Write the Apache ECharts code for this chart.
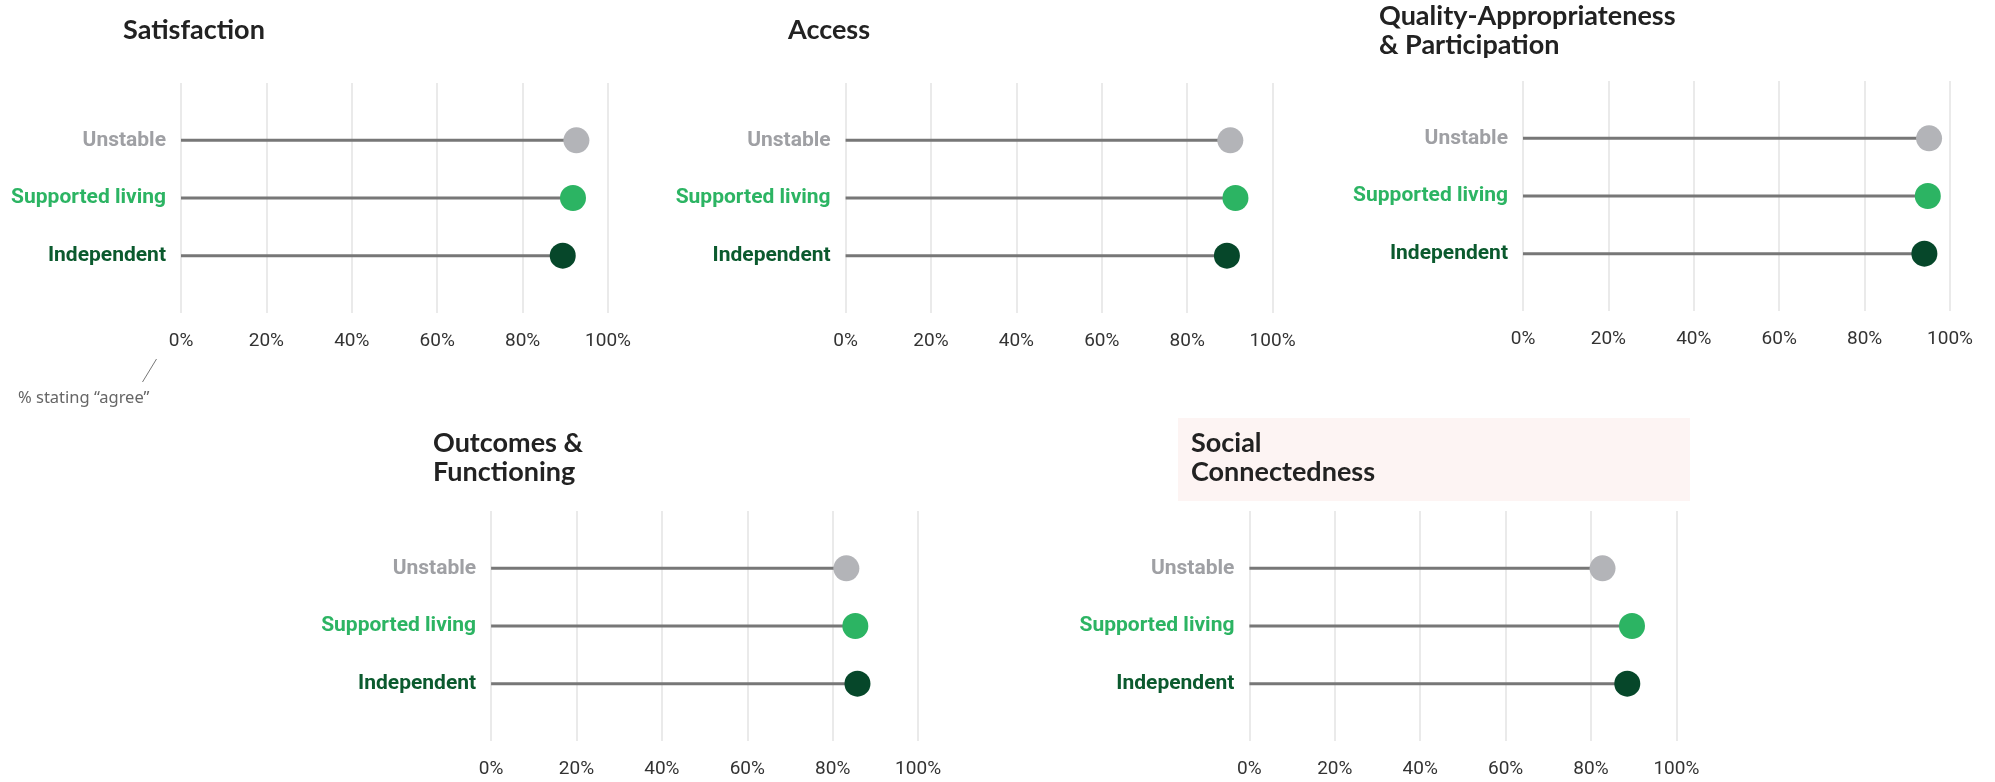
<!DOCTYPE html>
<html>
<head>
<meta charset="utf-8">
<style>
  html, body { margin: 0; padding: 0; background: #ffffff; }
  #chart { width: 1995px; height: 782px; }
</style>
<script src="https://cdn.jsdelivr.net/npm/echarts@6/dist/echarts.min.js"></script>
</head>
<body>
<div id="chart"></div>
<script>
// Housing groups, listed top to bottom
const categories = ['Unstable', 'Supported living', 'Independent'];

// % stating "agree", per domain, in the order of categories
const satisfaction = [92.6, 91.8, 89.4];
const access = [90.1, 91.3, 89.3];
const quality = [95.1, 94.8, 94.0];
const outcomes = [83.2, 85.3, 85.8];
const social = [82.7, 89.6, 88.5];

const panelTitles = [
  'Satisfaction',
  'Access',
  'Quality-Appropriateness\n& Participation',
  'Outcomes &\nFunctioning',
  'Social\nConnectedness'
];
const tickValues = [0, 20, 40, 60, 80, 100];

const dotColors = ['#b3b4b8', '#2cb463', '#06472a'];
const labelColors = ['#9fa0a4', '#2cb463', '#0b5a2e'];

// Panel placement: left edge of axis, top of the gridlines, title position
const panels = [
  { values: satisfaction, left: 181,    top: 83,  titleLeft: 123, titleTop: 16 },
  { values: access,       left: 845.6,  top: 83,  titleLeft: 788, titleTop: 16 },
  { values: quality,      left: 1523,   top: 81,  titleLeft: 1379, titleTop: 2 },
  { values: outcomes,     left: 491.1,  top: 511, titleLeft: 433, titleTop: 429 },
  { values: social,       left: 1249.4, top: 511, titleLeft: 1191, titleTop: 429 }
];
const AXIS_W = 427;
const FRAME_H = 230;   // height of the vertical gridlines
const ROW_PAD = 28.5;  // gap between gridline top and the first row band

const labelFont = 'Roboto, "Liberation Sans", sans-serif';

const grids = [], xAxes = [], yAxes = [], series = [], titles = [];

panels.forEach((p, i) => {
  // frame grid: gridlines + percent ticks
  grids.push({ left: p.left, top: p.top, width: AXIS_W, height: FRAME_H, containLabel: false, outerBoundsMode: 'none' });
  // plot grid: the three rows
  grids.push({ left: p.left, top: p.top + ROW_PAD, width: AXIS_W, height: FRAME_H - 2 * ROW_PAD, containLabel: false, outerBoundsMode: 'none' });

  const gFrame = 2 * i, gPlot = 2 * i + 1;

  xAxes.push({
    gridIndex: gFrame, type: 'value', min: 0, max: 100, interval: 20,
    axisLine: { show: false }, axisTick: { show: false },
    splitLine: { show: true, lineStyle: { color: '#e3e3e3', width: 1.5 } },
    axisLabel: {
      formatter: v => tickValues.includes(v) ? v + '%' : '',
      color: '#333333', fontFamily: labelFont, fontSize: 19, margin: 19
    }
  });
  yAxes.push({ gridIndex: gFrame, type: 'value', min: 0, max: 1, show: false });

  xAxes.push({ gridIndex: gPlot, type: 'value', min: 0, max: 100, show: false });
  yAxes.push({
    gridIndex: gPlot, type: 'category', data: categories, inverse: true,
    axisLine: { show: false }, axisTick: { show: false }, splitLine: { show: false },
    axisLabel: {
      margin: 15, fontFamily: labelFont, fontWeight: 'bold', fontSize: 21,
      color: (val) => labelColors[categories.indexOf(val)]
    }
  });

  const xi = xAxes.length - 1, yi = yAxes.length - 1;

  series.push({
    type: 'bar', xAxisIndex: xi, yAxisIndex: yi,
    data: p.values, barWidth: 3, silent: true,
    itemStyle: { color: '#777777' }, z: 2
  });
  series.push({
    type: 'scatter', xAxisIndex: xi, yAxisIndex: yi,
    symbolSize: 26, silent: true, z: 3,
    data: p.values.map((v, k) => ({ value: [v, categories[k]], itemStyle: { color: dotColors[k], opacity: 1 } }))
  });

  titles.push({
    text: panelTitles[i], left: p.titleLeft, top: p.titleTop, padding: 0,
    textStyle: { fontFamily: 'Lato, "Noto Sans", sans-serif', fontWeight: 'bold', fontSize: 27, lineHeight: 29, color: '#222222' }
  });
});

const chart = echarts.init(document.getElementById('chart'), null, { renderer: 'canvas' });
chart.setOption({
  animation: false,
  backgroundColor: '#ffffff',
  title: titles,
  grid: grids,
  xAxis: xAxes,
  yAxis: yAxes,
  series: series,
  graphic: [
    // highlight band behind the Social Connectedness heading
    { type: 'rect', left: 1178, top: 418, shape: { width: 512, height: 83 }, style: { fill: '#fdf4f3' }, z: -10 },
    // axis note
    { type: 'line', shape: { x1: 156.5, y1: 359, x2: 142.5, y2: 382 }, style: { stroke: '#777777', lineWidth: 1 } },
    { type: 'text', left: 18, top: 390, style: { text: '% stating \u201Cagree\u201D', fill: '#666666', font: '16.5px "Noto Sans", "Open Sans", sans-serif' } }
  ]
});
</script>
</body>
</html>
